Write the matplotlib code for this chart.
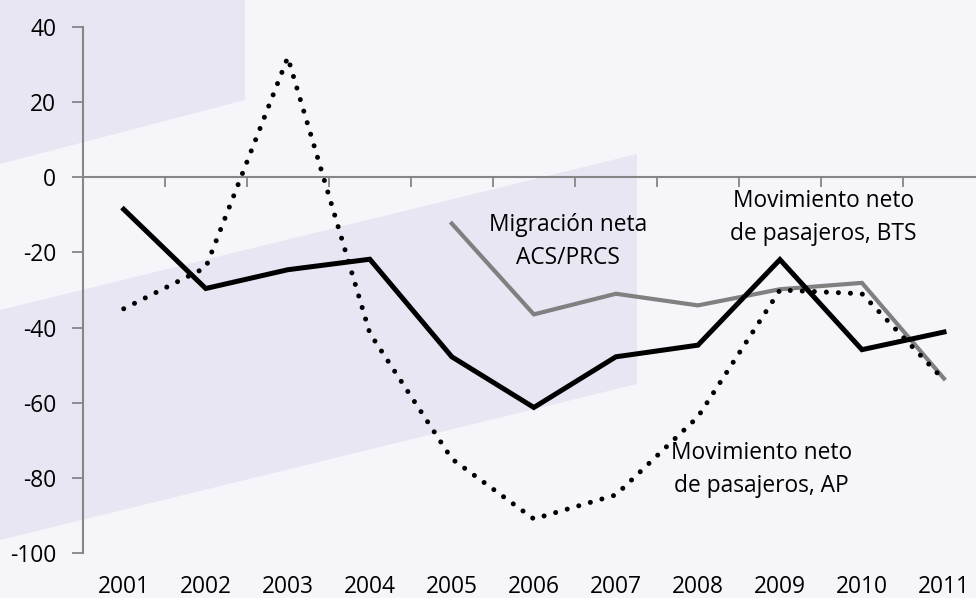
import matplotlib.pyplot as plt
from matplotlib.patches import Polygon
import numpy as np

plt.rcParams['font.family'] = ['Open Sans', 'DejaVu Sans']
plt.rcParams['axes.unicode_minus'] = False

years = [2001, 2002, 2003, 2004, 2005, 2006, 2007, 2008, 2009, 2010, 2011]
bts = [-8.5, -29.6, -24.6, -21.8, -47.8, -61.3, -47.8, -44.7, -21.9, -45.9, -41.2]
acs = [np.nan, np.nan, np.nan, np.nan, -12.3, -36.5, -31.0, -34.1, -29.8, -28.1, -53.6]
ap = [-35.0, -24.0, 32.0, -41.5, -75.0, -91.0, -84.6, -63.8, -30.0, -31.0, -54.0]
y_ticks = [40, 20, 0, -20, -40, -60, -80, -100]

BG = '#F6F6FA'
SHAPE = '#E7E6F2'
AXIS = '#868686'
FS = 16.4


def main() -> None:
    fig = plt.figure(figsize=(9.76, 5.98), dpi=100)
    fig.patch.set_facecolor(BG)

    # decorative background bands, in pixel coords
    bg = fig.add_axes([0, 0, 1, 1], zorder=0)
    bg.set_xlim(0, 976)
    bg.set_ylim(598, 0)
    bg.axis('off')
    bg.add_patch(Polygon([(0, 0), (245, 0), (245, 100), (0, 164)],
                         closed=True, facecolor=SHAPE, edgecolor='none'))
    bg.add_patch(Polygon([(0, 310), (637, 154), (637, 384), (0, 540)],
                         closed=True, facecolor=SHAPE, edgecolor='none'))

    ax = fig.add_axes([82.7 / 976, 1 - 552.7 / 598, (985 - 82.7) / 976,
                       (552.7 - 27.3) / 598], zorder=1)
    ax.patch.set_visible(False)

    ax.plot(years, acs, color='#808080', lw=3.0, solid_joinstyle='miter')
    ax.plot(years, ap, color='black', lw=3.6, linestyle=(0, (0.01, 2.4)),
            dash_capstyle='round')
    ax.plot(years, bts, color='black', lw=3.6, solid_joinstyle='miter')

    ax.set_xlim(years[0] - 0.5, years[-1] + 0.5)
    ax.set_ylim(-100, 40)
    ax.set_yticks(y_ticks)
    ax.set_xticks(years)
    ax.tick_params(axis='x', length=0, pad=16, labelsize=FS)
    ax.tick_params(axis='y', length=8, width=1.3, color=AXIS, pad=11, labelsize=FS)

    for s in ['top', 'right', 'bottom']:
        ax.spines[s].set_visible(False)
    ax.spines['left'].set_color(AXIS)
    ax.spines['left'].set_linewidth(1.5)

    # zero line with category tick marks
    sec = ax.secondary_xaxis(100 / 140)
    sec.xaxis.set_ticks_position('bottom')
    bounds = [y + 0.5 for y in years[:-1]]
    sec.set_xticks(bounds, labels=[''] * len(bounds))
    sec.tick_params(direction='out', length=7, width=1.3, color=AXIS,
                    labelbottom=False, labeltop=False)
    for s in ['top', 'bottom']:
        sec.spines[s].set_color(AXIS)
        sec.spines[s].set_linewidth(1.5)

    # multi-line labels: y is the baseline of the last line
    ax.text(2006.42, -23.1, 'Migración neta\nACS/PRCS', ha='center',
            va='baseline', fontsize=FS, linespacing=1.5)
    ax.text(2009.53, -16.7, 'Movimiento neto\nde pasajeros, BTS', ha='center',
            va='baseline', fontsize=FS, linespacing=1.5)
    ax.text(2008.77, -83.8, 'Movimiento neto\nde pasajeros, AP', ha='center',
            va='baseline', fontsize=FS, linespacing=1.5)

    plt.savefig('out.png', format='png', facecolor=BG)


if __name__ == '__main__':
    main()
